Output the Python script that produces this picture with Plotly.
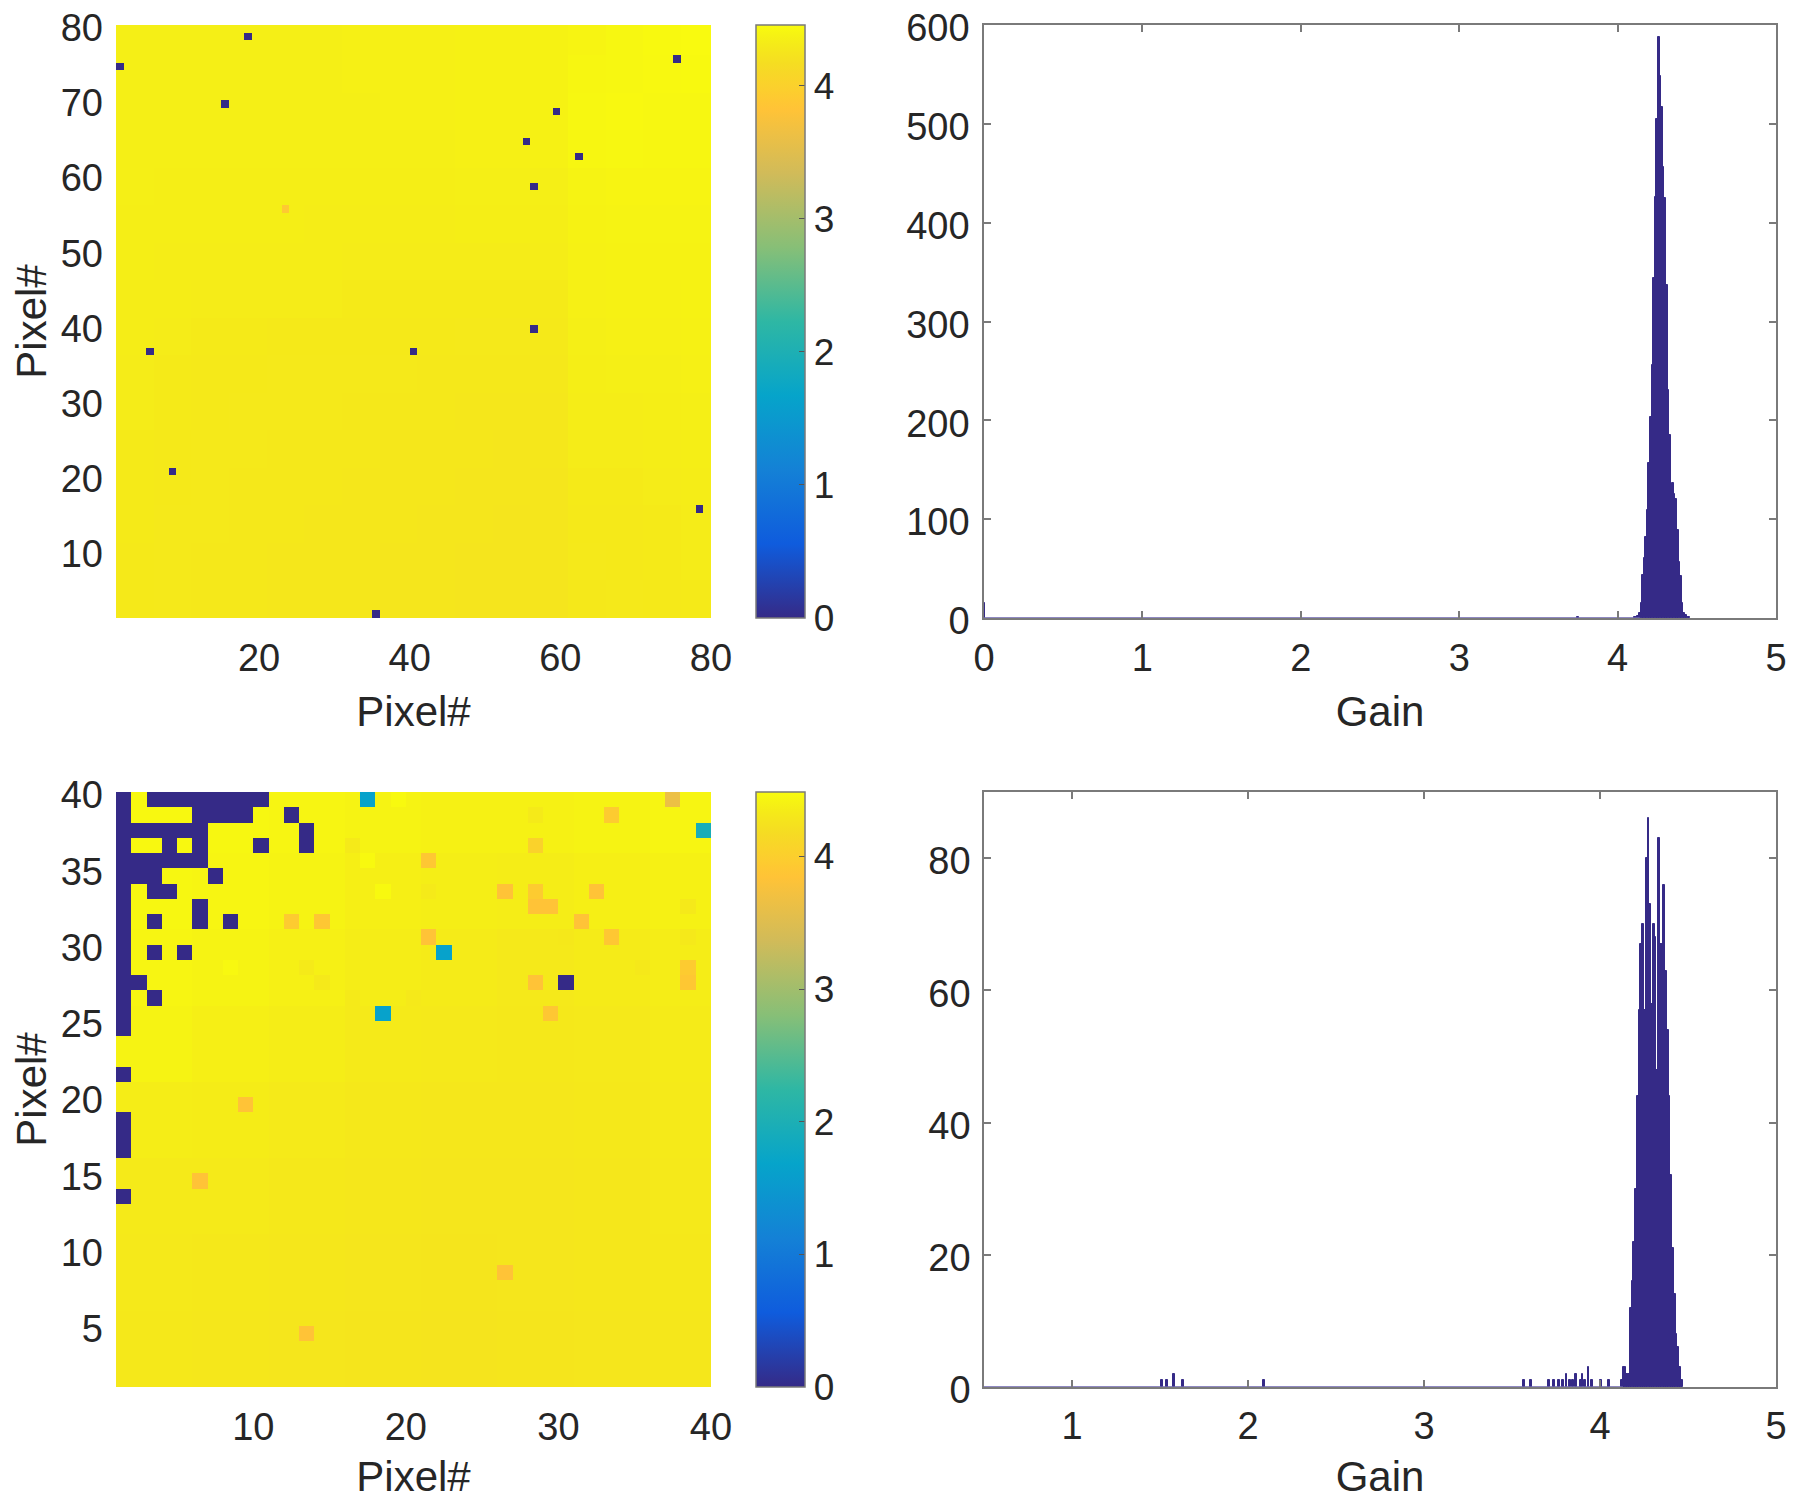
import numpy as np
import plotly.graph_objects as go
from plotly.subplots import make_subplots

# page body keeps its default 8px margin, so all px positions get shifted
PAGE_W, PAGE_H = 1784, 1492
OFFSET = 8

# colormap (parula), denser near the top where almost all the pixels sit
parula = [
    [0.0, '#352A87'], [0.125, '#0F5CDD'], [0.25, '#1481D6'], [0.375, '#06A4CA'],
    [0.5, '#2EB7A4'], [0.625, '#87BF77'], [0.75, '#D1BB59'], [0.857, '#FFC337'],
    [0.873, '#FEC832'], [0.889, '#FCCE2E'], [0.905, '#FAD32A'], [0.921, '#F7D826'],
    [0.937, '#F5DE21'], [0.952, '#F5E41D'], [0.968, '#F5EB18'], [0.984, '#F6F313'],
    [1.0, '#F9FB0E'],
]

# --- 80x80 array: background gain, rows go from y=1 upward, one value per 5 pixels
blocks_80 = [
    [4.30, 4.29, 4.28, 4.28, 4.27, 4.27, 4.27, 4.26, 4.26, 4.25, 4.25, 4.25, 4.28, 4.29, 4.30, 4.31],
    [4.30, 4.29, 4.28, 4.28, 4.27, 4.27, 4.27, 4.26, 4.26, 4.25, 4.25, 4.26, 4.29, 4.30, 4.31, 4.32],
    [4.31, 4.29, 4.29, 4.28, 4.28, 4.27, 4.27, 4.27, 4.26, 4.26, 4.25, 4.26, 4.30, 4.30, 4.31, 4.32],
    [4.31, 4.30, 4.29, 4.28, 4.28, 4.28, 4.27, 4.27, 4.27, 4.26, 4.26, 4.26, 4.31, 4.31, 4.32, 4.33],
    [4.31, 4.30, 4.29, 4.29, 4.28, 4.28, 4.28, 4.27, 4.27, 4.27, 4.26, 4.27, 4.32, 4.32, 4.33, 4.34],
    [4.32, 4.31, 4.30, 4.29, 4.29, 4.29, 4.28, 4.28, 4.28, 4.27, 4.27, 4.27, 4.33, 4.33, 4.34, 4.35],
    [4.32, 4.31, 4.30, 4.30, 4.29, 4.29, 4.29, 4.29, 4.28, 4.28, 4.28, 4.28, 4.34, 4.35, 4.35, 4.36],
    [4.33, 4.32, 4.31, 4.31, 4.30, 4.30, 4.30, 4.30, 4.30, 4.29, 4.29, 4.30, 4.35, 4.36, 4.36, 4.37],
    [4.33, 4.33, 4.32, 4.32, 4.32, 4.32, 4.31, 4.31, 4.31, 4.31, 4.31, 4.31, 4.36, 4.37, 4.37, 4.38],
    [4.34, 4.33, 4.33, 4.33, 4.33, 4.33, 4.32, 4.32, 4.32, 4.32, 4.32, 4.33, 4.37, 4.38, 4.38, 4.38],
    [4.34, 4.34, 4.34, 4.34, 4.34, 4.33, 4.33, 4.33, 4.33, 4.34, 4.34, 4.34, 4.38, 4.39, 4.39, 4.39],
    [4.35, 4.34, 4.34, 4.34, 4.34, 4.34, 4.34, 4.34, 4.34, 4.35, 4.35, 4.35, 4.39, 4.40, 4.40, 4.40],
    [4.35, 4.35, 4.35, 4.35, 4.35, 4.35, 4.35, 4.35, 4.35, 4.36, 4.36, 4.37, 4.41, 4.42, 4.41, 4.41],
    [4.35, 4.35, 4.35, 4.35, 4.35, 4.35, 4.35, 4.36, 4.36, 4.37, 4.37, 4.38, 4.42, 4.43, 4.42, 4.42],
    [4.35, 4.35, 4.35, 4.35, 4.35, 4.35, 4.36, 4.36, 4.36, 4.37, 4.37, 4.38, 4.41, 4.42, 4.43, 4.44],
    [4.35, 4.35, 4.35, 4.35, 4.35, 4.35, 4.36, 4.36, 4.36, 4.37, 4.37, 4.38, 4.40, 4.42, 4.44, 4.45],
]
dead_80 = [(18, 78), (1, 74), (75, 75), (15, 69), (59, 68), (55, 64), (62, 62),
           (56, 58), (56, 39), (5, 36), (40, 36), (8, 20), (78, 15), (35, 1)]
low_80 = [(23, 55, 3.9)]

# --- 40x40 array: background gain, one value per 5 pixels
blocks_40 = [
    [4.31, 4.30, 4.29, 4.28, 4.27, 4.28, 4.29, 4.30],
    [4.32, 4.31, 4.30, 4.29, 4.28, 4.29, 4.30, 4.31],
    [4.33, 4.33, 4.31, 4.30, 4.29, 4.29, 4.30, 4.32],
    [4.36, 4.35, 4.33, 4.31, 4.30, 4.30, 4.31, 4.33],
    [4.41, 4.38, 4.36, 4.33, 4.32, 4.31, 4.32, 4.34],
    [4.43, 4.41, 4.39, 4.36, 4.34, 4.32, 4.34, 4.36],
    [4.45, 4.43, 4.41, 4.38, 4.37, 4.36, 4.38, 4.40],
    [4.46, 4.45, 4.43, 4.41, 4.40, 4.40, 4.41, 4.43],
]
dead_40 = [
    (1, 39), (3, 39), (4, 39), (5, 39), (6, 39), (7, 39), (8, 39), (9, 39), (10, 39),
    (1, 38), (6, 38), (7, 38), (8, 38), (9, 38), (12, 38),
    (1, 37), (2, 37), (3, 37), (4, 37), (5, 37), (6, 37), (13, 37),
    (1, 36), (4, 36), (6, 36), (10, 36), (13, 36),
    (1, 35), (2, 35), (3, 35), (4, 35), (5, 35), (6, 35),
    (1, 34), (2, 34), (3, 34), (7, 34),
    (1, 33), (3, 33), (4, 33),
    (1, 32), (6, 32),
    (1, 31), (3, 31), (6, 31), (8, 31),
    (1, 30),
    (1, 29), (3, 29), (5, 29),
    (1, 28),
    (1, 27), (2, 27), (30, 27),
    (1, 26), (3, 26),
    (1, 25), (1, 24),
    (1, 21), (1, 18), (1, 17), (1, 16), (1, 13),
]
# pixels off the main gain peak: column, row, gain
low_40 = [
    (17, 39, 1.65), (22, 29, 1.65), (18, 25, 1.65), (39, 37, 1.95),
    (37, 39, 3.65), (33, 38, 3.95), (28, 36, 4.05), (21, 35, 3.9),
    (26, 33, 3.85), (28, 33, 3.95), (32, 33, 3.85), (28, 32, 3.85), (29, 32, 3.85),
    (12, 31, 3.95), (14, 31, 3.9), (31, 31, 3.85), (21, 30, 3.85), (33, 30, 3.9),
    (38, 28, 3.95), (38, 27, 3.9), (28, 27, 3.85), (29, 25, 3.9),
    (9, 19, 3.85), (6, 14, 3.85), (26, 8, 3.85), (13, 4, 3.85),
    # slightly off the surrounding background
    (19, 39, 4.47), (17, 35, 4.47), (18, 33, 4.47), (8, 28, 4.46),
    (16, 36, 4.33), (21, 33, 4.33), (28, 38, 4.33), (30, 30, 4.31),
    (13, 28, 4.33), (14, 27, 4.32), (16, 26, 4.33), (20, 26, 4.32),
    (38, 32, 4.32), (38, 30, 4.32), (35, 28, 4.31),
]

# --- gain histograms, 0.01 wide bins
gain_bins_80 = [0.0, 3.75, 4.11, 4.12, 4.13, 4.14, 4.15, 4.16, 4.17, 4.18, 4.19, 4.20, 4.21,
                4.22, 4.23, 4.24, 4.25, 4.26, 4.27, 4.28, 4.29, 4.30, 4.31, 4.32, 4.33,
                4.34, 4.35, 4.36, 4.37, 4.38, 4.39, 4.40, 4.41, 4.42, 4.43, 4.44, 4.45]
counts_80 = [15, 1, 1, 1, 2, 5, 15, 44, 61, 82, 109, 157, 203, 256, 344, 426, 505, 588, 548,
             517, 456, 425, 337, 231, 185, 130, 137, 125, 120, 89, 57, 42, 15, 5, 3, 1, 1]

gain_bins_40 = [1.51, 1.54, 1.58, 1.63, 2.09, 3.57, 3.61, 3.71, 3.74, 3.765, 3.79, 3.81, 3.83,
                3.845, 3.865, 3.89, 3.90, 3.915, 3.935, 3.955, 4.005, 4.05,
                4.125, 4.135, 4.145, 4.155, 4.165, 4.175, 4.185, 4.195, 4.205, 4.215,
                4.225, 4.235, 4.245, 4.255, 4.265, 4.275, 4.285, 4.295, 4.305, 4.315,
                4.325, 4.335, 4.345, 4.355, 4.365, 4.375, 4.385, 4.395, 4.405, 4.415,
                4.425, 4.435, 4.445, 4.455, 4.465]
counts_40 = [1, 1, 2, 1, 1, 1, 1, 1, 1, 1, 1, 2, 1, 1, 2, 1, 2, 1, 3, 1, 1, 1,
             1, 3, 3, 2, 2, 12, 16, 22, 30, 44, 57, 67, 70, 57, 80, 86,
             73, 58, 70, 68, 48, 83, 67, 67, 76, 63, 54, 44, 32, 21, 14, 8, 6, 3, 1]

base_x_80 = [0, 4.14]
base_x_40 = [0.5, 4.13]

zmax_80 = 4.458
zmax_40 = 4.486

x_ticks_80 = [20, 40, 60, 80]
y_ticks_80 = [10, 20, 30, 40, 50, 60, 70, 80]
x_ticks_40 = [10, 20, 30, 40]
y_ticks_40 = [5, 10, 15, 20, 25, 30, 35, 40]
bar_ticks = [0, 1, 2, 3, 4]
gain_ticks_80 = [0, 1, 2, 3, 4, 5]
gain_ticks_40 = [1, 2, 3, 4, 5]
count_ticks_80 = [0, 100, 200, 300, 400, 500, 600]
count_ticks_40 = [0, 20, 40, 60, 80]

TEXT = '#262626'
AXIS = '#7a7a7a'
TICK_SIZE = 38
BAR_TICK_SIZE = 37
TITLE_SIZE = 42
FONT = 'Liberation Sans'
NAVY = '#352a87'


def build_map(blocks, size, n, dead, low):
    z = np.array(blocks, dtype=float).repeat(size, axis=0).repeat(size, axis=1)[:n, :n]
    for col, row in dead:
        z[row - 1, col - 1] = 0.0
    for col, row, gain in low:
        z[row - 1, col - 1] = gain
    return z


def paper_x(px):
    return (px - OFFSET) / PAGE_W


def paper_y(px):
    return 1 - (px - OFFSET) / PAGE_H


z_80 = build_map(blocks_80, 5, 79, dead_80, low_80)
z_40 = build_map(blocks_40, 5, 39, dead_40, low_40)

fig = make_subplots(rows=2, cols=2)

# top and bottom of each row in px of the target page
boxes = {
    'top': (25, 618),
    'bottom': (792, 1387),
}
colorbar_left = 756
colorbar_width = 49


def add_map(z, zmax, n, row, span):
    top, bottom = span
    fig.add_trace(go.Heatmap(
        z=z,
        x=list(range(1, n + 2)),
        y=list(range(1, n + 2)),
        zmin=0, zmax=zmax,
        colorscale=parula,
        colorbar=dict(
            x=paper_x(colorbar_left), xanchor='left', xpad=0,
            y=paper_y(bottom), yanchor='bottom', ypad=0,
            len=(bottom - top) / PAGE_H, lenmode='fraction',
            thickness=colorbar_width, thicknessmode='pixels',
            outlinecolor=AXIS, outlinewidth=1.5,
            tickvals=bar_ticks, ticks='inside', ticklen=6, tickcolor='#555555', tickwidth=1,
            tickfont=dict(size=BAR_TICK_SIZE, color=TEXT, family=FONT),
        ),
    ), row=row, col=1)


add_map(z_80, zmax_80, 79, 1, boxes['top'])
add_map(z_40, zmax_40, 39, 2, boxes['bottom'])


def add_hist(bins, counts, base_x, row):
    fig.add_trace(go.Scatter(x=base_x, y=[0, 0], mode='lines',
                             line=dict(color='#6a62ad', width=1.5), showlegend=False,
                             cliponaxis=False), row=row, col=2)
    fig.add_trace(go.Bar(x=bins, y=counts, width=0.01,
                         marker=dict(color=NAVY, line=dict(color=NAVY, width=1)),
                         showlegend=False), row=row, col=2)


add_hist(gain_bins_80, counts_80, base_x_80, 1)
add_hist(gain_bins_40, counts_40, base_x_40, 2)

fig.update_layout(
    width=PAGE_W, height=PAGE_H,
    margin=dict(l=0, r=0, t=0, b=0, autoexpand=False),
    paper_bgcolor='white', plot_bgcolor='white',
    font=dict(family=FONT, color=TEXT, size=TICK_SIZE),
    showlegend=False,
    bargap=0,
)

map_style = dict(showgrid=False, zeroline=False, ticks='', showline=False,
                 ticklabeloverflow='allow', tickfont=dict(size=TICK_SIZE, color=TEXT))
hist_style = dict(showgrid=False, zeroline=False, ticks='inside', ticklen=7, tickwidth=1.5,
                  tickcolor=AXIS, showline=True, linecolor=AXIS, linewidth=1.5, mirror='ticks',
                  ticklabeloverflow='allow', tickfont=dict(size=TICK_SIZE, color=TEXT))
title_font = dict(size=TITLE_SIZE, color=TEXT)

left_dom = [paper_x(116), paper_x(711)]
right_dom = [paper_x(984), paper_x(1776)]
top_dom = [paper_y(boxes['top'][1]), paper_y(boxes['top'][0])]
bot_dom = [paper_y(boxes['bottom'][1]), paper_y(boxes['bottom'][0])]
LABEL_SHIFT = 3

fig.update_xaxes(domain=left_dom, range=[1, 80], tickvals=x_ticks_80, ticklabelstandoff=14, row=1, col=1,
                 title=dict(text='Pixel#', font=title_font, standoff=18), **map_style)
fig.update_yaxes(domain=top_dom, range=[1, 80], tickvals=y_ticks_80, ticklabelstandoff=12,
                 ticklabelshift=LABEL_SHIFT, row=1, col=1,
                 title=dict(text='Pixel#', font=title_font, standoff=16), **map_style)
fig.update_xaxes(domain=left_dom, range=[1, 40], tickvals=x_ticks_40, ticklabelstandoff=14, row=2, col=1,
                 title=dict(text='Pixel#', font=title_font, standoff=19), **map_style)
fig.update_yaxes(domain=bot_dom, range=[1, 40], tickvals=y_ticks_40, ticklabelstandoff=12,
                 ticklabelshift=LABEL_SHIFT, row=2, col=1,
                 title=dict(text='Pixel#', font=title_font, standoff=16), **map_style)

fig.update_xaxes(domain=right_dom, range=[0, 5], tickvals=gain_ticks_80, ticklabelstandoff=6, row=1, col=2,
                 title=dict(text='Gain', font=title_font, standoff=18), **hist_style)
fig.update_yaxes(domain=top_dom, range=[0, 600], tickvals=count_ticks_80, ticklabelstandoff=5,
                 ticklabelshift=LABEL_SHIFT, row=1, col=2, **hist_style)
fig.update_xaxes(domain=right_dom, range=[0.5, 5], tickvals=gain_ticks_40, ticklabelstandoff=5, row=2, col=2,
                 title=dict(text='Gain', font=title_font, standoff=20), **hist_style)
fig.update_yaxes(domain=bot_dom, range=[0, 90], tickvals=count_ticks_40, ticklabelstandoff=4,
                 ticklabelshift=LABEL_SHIFT, row=2, col=2, **hist_style)

fig.write_html("out.html")
